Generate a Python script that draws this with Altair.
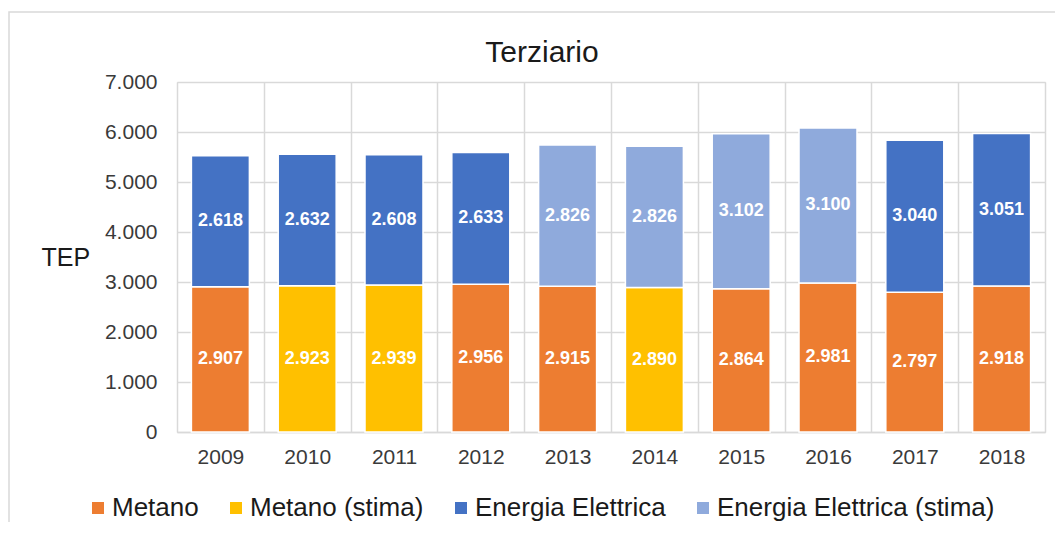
import altair as alt
import pandas as pd

years = ["2009", "2010", "2011", "2012", "2013", "2014", "2015", "2016", "2017", "2018"]
metano = [2907, 2923, 2939, 2956, 2915, 2890, 2864, 2981, 2797, 2918]
metano_stima = [False, True, True, False, False, True, False, False, False, False]
elettrica = [2618, 2632, 2608, 2633, 2826, 2826, 3102, 3100, 3040, 3051]
elettrica_stima = [False, False, False, False, True, True, True, True, False, False]

series = ["Metano", "Metano (stima)", "Energia Elettrica", "Energia Elettrica (stima)"]
colors = ["#ED7D31", "#FFC000", "#4472C4", "#8FAADC"]

rows = []
for i, y in enumerate(years):
    rows.append({"year": y, "serie": series[1] if metano_stima[i] else series[0],
                 "value": metano[i], "layer": 0})
    rows.append({"year": y, "serie": series[3] if elettrica_stima[i] else series[2],
                 "value": elettrica[i], "layer": 1})
df = pd.DataFrame(rows)

W, H = 868, 350
FONT = "Liberation Sans"

base = alt.Chart(df).transform_stack(
    stack="value", groupby=["year"], sort=[alt.SortField("layer")], as_=["v0", "v1"]
).transform_calculate(
    mid="(datum.v0 + datum.v1) / 2",
    lab="replace(format(datum.value, ','), ',', '.')"
)

xenc = alt.X(
    "year:N", title=None, sort=years,
    scale=alt.Scale(paddingInner=0, paddingOuter=0),
    axis=alt.Axis(
        labelAngle=0, labelFontSize=21, labelColor="#3a3a3a", labelPadding=14,
        ticks=False, grid=True, tickBand="extent", gridColor="#d9d9d9", gridWidth=1.5,
        domainColor="#d9d9d9", domainWidth=1.5, labelFont=FONT,
    ),
)

yscale = alt.Scale(domain=[0, 7000], nice=False)

bars = base.mark_bar(
    width=alt.RelativeBandSize(0.668), stroke="white", strokeWidth=1.5
).encode(
    x=xenc,
    y=alt.Y(
        "v0:Q", scale=yscale, title="TEP",
        axis=alt.Axis(
            values=[0, 1000, 2000, 3000, 4000, 5000, 6000, 7000],
            labelExpr="replace(format(datum.value, ','), ',', '.')",
            labelFontSize=21, labelColor="#3a3a3a", labelPadding=20,
            ticks=False, domain=False, gridColor="#d9d9d9", gridWidth=1.5,
            titleAngle=0, titleAlign="left", titleBaseline="middle",
            titleX=-136, titleY=H / 2, titleFontSize=25, titleFontWeight="normal",
            titleColor="#1a1a1a", titleFont=FONT, labelFont=FONT,
        ),
    ),
    y2="v1:Q",
    color=alt.Color(
        "serie:N",
        scale=alt.Scale(domain=series, range=colors),
        legend=alt.Legend(
            title=None, orient="none", direction="horizontal", columns=4,
            legendX=-92, legendY=413, symbolType="square", symbolSize=144,
            symbolStrokeWidth=0, labelFontSize=26, labelColor="#1a1a1a",
            labelOffset=1, columnPadding=24, labelFont=FONT, labelLimit=400,
        ),
    ),
)

labels = base.mark_text(
    color="white", fontWeight="bold", fontSize=18, baseline="middle", font=FONT
).encode(
    x=alt.X("year:N", sort=years),
    y=alt.Y("mid:Q", scale=yscale),
    text="lab:N",
)

frame = alt.Chart(pd.DataFrame({"f": [0]})).mark_rect(
    fill="transparent", stroke="#d9d9d9", strokeWidth=1.5
).encode(
    x=alt.value(-168), x2=alt.value(W + 60),
    y=alt.value(-70), y2=alt.value(H + 140),
)

chart = alt.layer(frame, bars, labels).properties(
    width=W, height=H,
    title=alt.TitleParams(
        "Terziario", fontSize=30, fontWeight="normal", color="#1a1a1a", font=FONT,
        anchor="middle", frame="group", baseline="alphabetic", offset=-81, dx=-69,
    ),
    autosize=alt.AutoSizeParams(type="none"),
    padding={"left": 169, "top": 74, "right": 10, "bottom": 90},
).configure_view(
    stroke="#d9d9d9", strokeWidth=1.5
).configure(
    font=FONT, background="white"
)

chart.save("out.html", embed_options={"renderer": "svg", "actions": False})
